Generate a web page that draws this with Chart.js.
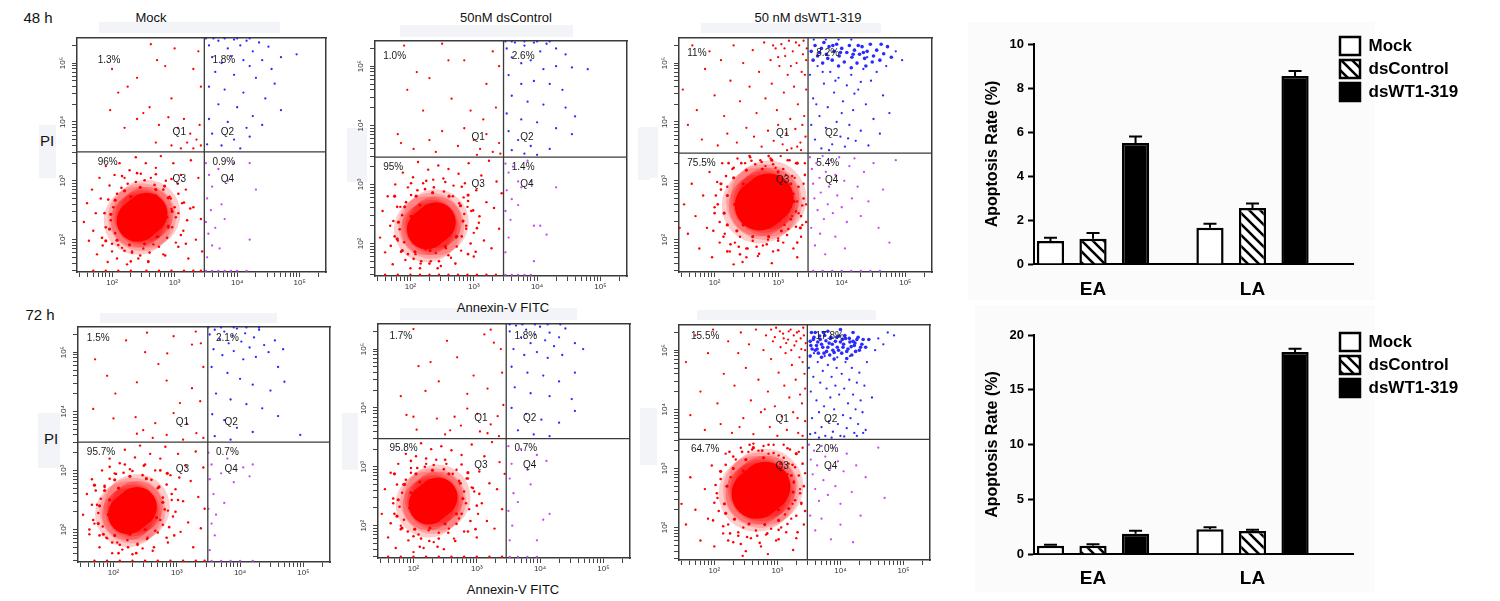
<!DOCTYPE html>
<html>
<head>
<meta charset="utf-8">
<title>Apoptosis - Annexin-V / PI</title>
<script src="https://cdn.jsdelivr.net/npm/chart.js@4.4.1/dist/chart.umd.min.js"></script>
<style>
  body { margin:0; width:1500px; height:601px; position:relative; overflow:hidden; background:#fff;
         font-family: Arial, "Liberation Sans", sans-serif; color:#111; }
  canvas { position:absolute; }
  .t { position:absolute; white-space:nowrap; transform:translate(-50%,-50%); }
  .shade { position:absolute; background:#f2f4f7; }
  .pane { position:absolute; background:#fbfbfb; }
</style>
</head>
<body>
<!-- faint boxes left over around the cytometry panels -->
<div class="shade" style="left:99px;top:22px;width:181px;height:11px"></div>
<div class="shade" style="left:39px;top:125px;width:17px;height:53px"></div>
<div class="shade" style="left:400px;top:25px;width:173px;height:12px"></div>
<div class="shade" style="left:347px;top:128px;width:20px;height:54px"></div>
<div class="shade" style="left:638px;top:128px;width:12px;height:52px"></div>
<div class="shade" style="left:701px;top:23px;width:180px;height:10px"></div>
<div class="shade" style="left:640px;top:127px;width:18px;height:51px"></div>
<div class="shade" style="left:100px;top:313px;width:177px;height:10px"></div>
<div class="shade" style="left:38px;top:413px;width:22px;height:55px"></div>
<div class="shade" style="left:400px;top:308px;width:177px;height:12px"></div>
<div class="shade" style="left:342px;top:413px;width:16px;height:57px"></div>
<div class="shade" style="left:642px;top:408px;width:8px;height:57px"></div>
<div class="shade" style="left:697px;top:310px;width:179px;height:10px"></div>
<div class="shade" style="left:640px;top:408px;width:17px;height:57px"></div>
<div class="pane" style="left:968px;top:22px;width:407px;height:278px"></div>
<div class="pane" style="left:975px;top:305px;width:400px;height:287px"></div>

<div class="t" style="left:38px;top:17px;font-size:15px">48 h</div>
<div class="t" style="left:40px;top:314px;font-size:15px">72 h</div>
<div class="t" style="left:151px;top:17px;font-size:13px">Mock</div>
<div class="t" style="left:506px;top:17px;font-size:13px">50nM dsControl</div>
<div class="t" style="left:808px;top:17px;font-size:13px">50 nM dsWT1-319</div>
<div class="t" style="left:47px;top:140px;font-size:15px">PI</div>
<div class="t" style="left:51px;top:438px;font-size:15px">PI</div>
<div class="t" style="left:503px;top:307px;font-size:13px">Annexin-V FITC</div>
<div class="t" style="left:513px;top:589px;font-size:13px">Annexin-V FITC</div>

<script>
// ---- flow cytometry panels: values are log10 of the Annexin-V (x) / PI (y) intensity ----
const XMIN = 1.44, XMAX = 5.42, YMIN = 1.45, YMAX = 5.43;
const decades = [2, 3, 4, 5];
const decadeLabels = ['10²', '10³', '10⁴', '10⁵'];
const gateX = [3.475, 3.47, 3.47, 3.49, 3.465, 3.475];
const gateY = [3.49, 3.46, 3.47, 3.48, 3.48, 3.49];

const pctM48 = ['1.3%', '1.8%', '96%', '0.9%'];
const pctC48 = ['1.0%', '2.6%', '95%', '1.4%'];
const pctW48 = ['11%', '8.2%', '75.5%', '5.4%'];
const pctM72 = ['1.5%', '2.1%', '95.7%', '0.7%'];
const pctC72 = ['1.7%', '1.8%', '95.8%', '0.7%'];
const pctW72 = ['15.5%', '17.8%', '64.7%', '2.0%'];

// 48 h Mock
const m48Core = [2.41,2.32, 2.48,2.38, 2.55,2.44];
const m48Ring = [1.96,2.18, 1.98,2.43, 2.05,2.67, 2.20,2.83, 2.45,2.89, 2.70,2.85, 2.90,2.71, 2.96,2.48, 2.90,2.23, 2.72,2.05, 2.52,1.93, 2.28,1.91, 2.08,1.99, 2.84,2.91, 1.90,1.98, 2.15,2.23, 2.80,2.33, 2.30,2.73, 2.70,2.68, 2.15,2.48];
const m48Near = [1.98,2.33, 2.02,2.55, 2.05,2.11, 2.08,2.78, 2.10,1.91, 2.15,2.88, 2.20,1.81, 2.25,2.95, 2.32,1.78, 2.38,2.98, 2.45,1.73, 2.52,3.01, 2.60,1.78, 2.68,2.93, 2.75,1.88, 2.82,2.85, 2.88,2.03, 2.92,2.73, 2.96,2.21, 3.00,2.55, 3.02,2.38, 3.06,2.78, 3.10,2.08, 3.15,2.63, 1.90,2.21, 1.94,2.68, 1.88,2.45, 2.16,3.08, 2.40,3.13, 2.70,3.11, 2.95,3.03, 3.20,2.33, 3.18,1.93, 2.30,1.63, 2.58,1.63, 2.85,1.73, 2.00,1.93, 1.84,2.03, 3.06,1.88, 3.25,2.53];
const m48Q3 = [1.55,2.30, 1.60,2.62, 1.63,1.98, 1.68,2.85, 1.70,2.15, 1.74,2.45, 1.76,1.75, 1.80,3.05, 1.82,2.70, 1.85,1.90, 1.90,3.25, 1.93,1.62, 1.96,2.92, 2.00,1.80, 2.04,3.10, 2.08,1.68, 2.12,3.30, 2.16,1.86, 2.20,3.05, 2.24,1.58, 2.28,3.18, 2.32,1.80, 2.38,3.40, 2.42,1.68, 2.46,3.12, 2.50,1.85, 2.54,3.30, 2.58,1.62, 2.62,3.05, 2.66,1.92, 2.70,3.22, 2.74,2.05, 2.78,3.42, 2.82,1.75, 2.86,3.00, 2.90,2.20, 2.94,2.70, 2.98,3.30, 3.02,1.95, 3.06,2.45, 3.10,3.10, 3.14,2.15, 3.18,2.85, 3.22,1.68, 3.26,3.35, 3.30,2.55, 3.34,2.00, 3.38,3.05, 3.42,2.35, 3.44,1.80, 2.95,2.52, 3.05,2.95, 2.88,2.38, 3.12,2.62, 2.70,2.75, 1.70,1.47, 1.90,1.47, 2.10,1.47, 2.30,1.47, 2.55,1.47, 2.75,1.47, 2.95,1.47, 3.15,1.47, 3.30,1.47, 3.42,1.47];
const m48Q1 = [2.00,4.90, 2.62,5.32, 2.72,5.05, 2.25,4.60, 2.40,4.75, 2.10,4.50, 2.95,4.40, 2.60,4.25, 1.97,4.20, 2.40,4.05, 2.75,3.95, 2.90,4.08, 3.05,3.90, 3.15,4.05, 3.25,3.80, 3.35,3.70, 2.70,3.65, 2.95,3.60, 3.10,3.55, 3.20,3.65, 3.30,3.55, 3.40,3.95, 3.42,4.60, 3.38,5.20, 3.30,4.90, 2.50,4.15, 2.20,3.90, 3.00,5.25, 2.85,4.95, 3.42,3.60];
const m48Q2 = [3.55,5.30, 3.70,5.38, 3.85,5.25, 3.95,5.40, 4.05,5.30, 4.15,5.38, 4.25,5.20, 4.35,5.35, 4.50,5.28, 4.70,5.10, 4.95,5.15, 3.60,5.10, 3.75,5.00, 3.90,5.12, 4.10,5.05, 4.20,4.95, 4.40,5.05, 4.55,4.90, 3.65,4.85, 3.95,4.80, 4.30,4.75, 4.60,4.65, 3.55,4.60, 3.80,4.55, 4.10,4.50, 4.45,4.40, 3.70,4.30, 4.00,4.25, 4.25,4.10, 4.70,4.20, 3.55,4.05, 3.85,4.00, 4.15,3.90, 4.40,3.95, 3.60,3.80, 3.95,3.70, 4.20,3.75, 3.75,3.60, 3.52,3.62, 4.05,3.55, 3.50,5.42, 3.62,5.42, 3.80,5.42, 4.00,5.42, 4.20,5.42];
const m48Q4 = [3.50,3.30, 3.55,3.10, 3.60,2.90, 3.52,2.70, 3.58,2.50, 3.50,2.30, 3.54,2.10, 3.60,1.90, 3.52,1.70, 3.65,2.20, 3.70,3.20, 3.75,2.60, 3.85,3.00, 3.95,3.30, 4.20,3.30, 4.30,2.85, 4.20,2.00, 3.72,1.85, 3.80,2.35, 3.50,1.47, 3.60,1.47, 3.70,1.47, 3.80,1.47, 3.90,1.47, 4.00,1.47, 4.15,1.47];

// 48 h dsControl
const c48Core = [2.26,2.24, 2.33,2.30, 2.40,2.36];
const c48Ring = [1.79,2.08, 1.81,2.36, 1.91,2.62, 2.09,2.80, 2.35,2.86, 2.61,2.80, 2.79,2.64, 2.83,2.38, 2.73,2.12, 2.55,1.95, 2.31,1.88, 2.07,1.86, 1.87,1.88, 2.91,2.82, 1.75,2.80, 1.99,2.20, 2.65,2.25, 2.15,2.65, 2.58,2.60, 2.01,2.46];
const c48Near = [1.83,2.24, 1.87,2.48, 1.90,2.02, 1.93,2.70, 1.96,1.82, 2.01,2.82, 2.05,1.74, 2.11,2.90, 2.17,1.70, 2.23,2.92, 2.30,1.66, 2.37,2.95, 2.45,1.70, 2.53,2.88, 2.60,1.80, 2.67,2.80, 2.73,1.95, 2.77,2.68, 2.81,2.12, 2.85,2.50, 2.88,2.30, 2.91,2.72, 2.95,2.00, 2.99,2.56, 1.75,2.12, 1.79,2.62, 1.73,2.38, 2.01,3.02, 2.25,3.06, 2.55,3.04, 2.81,2.96, 3.05,2.26, 3.03,1.86, 2.15,1.58, 2.43,1.58, 2.71,1.66, 1.85,1.86, 1.69,1.96, 2.91,1.82, 3.09,2.46];
const c48Q3 = [1.52,2.10, 1.56,2.55, 1.60,1.85, 1.64,2.80, 1.68,2.30, 1.72,1.65, 1.76,3.00, 1.80,2.05, 1.84,2.62, 1.88,3.20, 1.92,1.72, 1.96,2.95, 2.00,1.58, 2.04,3.12, 2.08,1.82, 2.12,3.38, 2.16,1.66, 2.20,3.02, 2.24,1.90, 2.28,3.25, 2.32,1.70, 2.36,3.08, 2.40,1.84, 2.44,3.32, 2.48,1.62, 2.52,3.10, 2.56,1.92, 2.60,3.26, 2.64,1.76, 2.68,2.98, 2.72,2.10, 2.76,3.18, 2.80,1.88, 2.84,2.78, 2.88,2.25, 2.92,3.36, 2.96,2.55, 3.00,1.78, 3.04,2.90, 3.08,2.35, 3.12,3.15, 3.16,2.05, 3.20,2.70, 3.24,3.40, 3.28,1.92, 3.32,2.60, 3.36,3.05, 3.40,2.25, 3.44,2.85, 2.90,2.62, 3.00,2.18, 2.86,3.02, 1.60,1.47, 1.80,1.47, 2.00,1.47, 2.15,1.47, 2.30,1.47, 2.45,1.47, 2.60,1.47, 2.75,1.47, 2.90,1.47, 3.05,1.47, 3.20,1.47, 3.35,1.47];
const c48Q1 = [1.90,5.35, 2.50,5.38, 2.60,5.10, 2.30,4.80, 1.95,4.60, 2.10,4.90, 2.85,5.10, 3.30,5.25, 3.40,5.00, 3.20,4.70, 2.20,4.25, 1.80,3.85, 1.85,3.70, 2.30,3.75, 2.50,3.90, 2.75,3.65, 2.85,3.95, 3.00,3.75, 3.10,3.60, 3.20,3.85, 3.30,3.55, 3.40,3.70, 3.15,4.10, 2.95,4.25, 3.35,4.30, 2.65,4.45, 3.42,3.52, 2.40,3.55, 2.05,3.60, 3.05,3.50];
const c48Q2 = [3.52,5.30, 3.65,5.40, 3.80,5.35, 3.95,5.40, 4.05,5.25, 4.15,5.38, 4.30,5.30, 4.45,5.20, 3.60,5.15, 3.75,5.05, 3.90,5.10, 4.10,4.95, 4.30,5.00, 4.55,4.98, 4.80,4.95, 3.55,4.85, 3.75,4.70, 3.95,4.75, 4.20,4.70, 4.40,4.60, 3.60,4.50, 3.85,4.40, 4.10,4.35, 4.45,4.30, 4.60,4.15, 3.52,4.20, 3.75,4.10, 4.00,4.05, 4.30,3.95, 4.55,3.85, 3.55,3.90, 3.70,3.75, 3.90,3.65, 4.20,3.60, 3.60,3.58, 3.80,3.52, 4.00,3.50, 3.60,5.42, 3.80,5.42, 4.00,5.42, 4.20,5.42, 3.50,5.42];
const c48Q4 = [3.50,3.35, 3.55,3.20, 3.62,3.30, 3.70,3.05, 3.52,2.90, 3.60,2.75, 3.75,2.95, 3.85,3.40, 3.50,2.55, 3.58,2.40, 3.70,2.65, 3.90,3.05, 4.30,2.95, 3.95,2.30, 4.05,2.30, 3.55,2.10, 4.15,2.15, 3.95,1.70, 3.50,1.85, 3.50,1.47, 3.60,1.47, 3.70,1.47, 3.80,1.47, 3.90,1.47];

// 48 h dsWT1-319
const w48Core = [2.71,2.58, 2.78,2.64, 2.85,2.70];
const w48Ring = [2.15,2.45, 2.20,2.75, 2.30,3.05, 2.50,3.18, 2.75,3.20, 3.00,3.15, 3.20,2.95, 3.25,2.65, 3.20,2.35, 3.05,2.15, 2.85,2.05, 2.60,2.05, 2.35,2.15, 2.20,2.25, 3.30,3.30, 2.90,3.35, 3.35,2.20, 2.10,2.95, 2.32,2.60, 3.10,2.75, 2.45,2.95, 3.02,2.32, 2.70,3.05, 2.45,2.25];
const w48Near = [2.05,2.60, 2.08,2.30, 2.10,2.85, 2.14,2.05, 2.18,3.08, 2.25,1.92, 2.30,3.22, 2.38,1.88, 2.42,3.30, 2.50,1.85, 2.58,3.34, 2.66,1.88, 2.74,3.32, 2.82,1.92, 2.92,3.28, 3.00,1.98, 3.08,3.20, 3.14,2.08, 3.22,3.08, 3.28,2.22, 3.32,2.90, 3.36,2.40, 3.40,2.70, 3.42,3.10, 3.38,2.58, 3.28,2.48, 3.24,2.78, 2.00,2.45, 2.02,2.75, 1.98,2.15, 2.22,3.30, 2.55,3.42, 2.85,3.42, 3.15,3.35, 3.44,2.30, 2.40,1.75, 2.70,1.76, 3.00,1.82, 2.20,1.80, 3.30,1.95];
const w48Q3 = [1.52,2.60, 1.58,2.10, 1.64,2.95, 1.70,2.40, 1.76,1.85, 1.82,2.75, 1.88,2.20, 1.92,3.15, 1.96,1.70, 2.00,2.55, 2.04,2.98, 2.08,1.95, 2.12,3.30, 2.16,2.10, 2.20,2.90, 2.24,1.80, 2.28,3.20, 2.32,1.95, 2.36,3.38, 2.40,2.05, 2.44,1.62, 2.48,3.30, 2.52,1.85, 2.56,3.40, 2.60,1.98, 2.64,3.28, 2.68,1.72, 2.72,3.35, 2.76,1.90, 2.80,3.25, 2.84,2.00, 2.88,3.38, 2.92,1.80, 2.96,3.22, 3.00,2.02, 3.04,3.42, 3.08,1.95, 3.12,3.10, 3.16,2.18, 3.20,2.80, 3.24,1.85, 3.28,3.30, 3.32,2.45, 3.36,2.05, 3.40,2.95, 3.44,2.60, 3.42,3.30, 3.38,2.25, 3.30,2.65, 3.26,3.05, 3.22,2.40, 3.14,2.95, 3.10,2.25, 3.18,3.35, 2.50,1.70, 2.30,1.58, 2.90,1.60, 3.30,1.70, 1.45,2.20];
const w48Q1 = [1.50,4.55, 1.58,3.95, 1.65,5.30, 1.72,4.20, 1.80,3.70, 1.85,4.90, 1.92,5.20, 2.00,4.45, 2.05,3.60, 2.10,5.05, 2.15,4.10, 2.20,3.80, 2.25,4.70, 2.30,5.30, 2.35,3.65, 2.40,4.35, 2.45,5.00, 2.50,3.90, 2.55,4.60, 2.60,5.22, 2.62,3.75, 2.66,4.15, 2.70,4.85, 2.74,3.58, 2.78,5.35, 2.80,4.40, 2.84,3.85, 2.88,5.05, 2.90,4.65, 2.93,3.68, 2.96,5.25, 2.98,4.20, 3.00,3.95, 3.02,4.95, 3.05,5.32, 3.07,3.62, 3.09,4.50, 3.11,5.12, 3.13,3.80, 3.15,4.80, 3.17,5.38, 3.19,4.05, 3.21,3.55, 3.23,5.20, 3.25,4.60, 3.27,3.88, 3.29,5.00, 3.31,4.30, 3.33,5.30, 3.35,3.65, 3.37,4.85, 3.39,5.15, 3.41,4.10, 3.43,3.75, 3.44,4.55, 3.45,5.25, 3.40,5.38, 3.36,3.52, 3.28,5.35, 3.20,4.95, 3.10,5.25, 3.00,5.10, 2.92,5.30, 3.44,5.05, 3.42,4.80, 3.38,3.95, 3.30,3.58, 3.14,3.52];
const w48Q2Dense = [3.52,5.20, 3.58,5.30, 3.62,5.12, 3.68,5.25, 3.72,5.35, 3.76,5.15, 3.80,5.28, 3.85,5.05, 3.88,5.20, 3.92,5.32, 3.96,5.12, 4.00,5.25, 4.04,5.02, 4.08,5.18, 4.12,5.30, 4.16,5.10, 4.20,5.22, 4.24,5.00, 4.28,5.15, 4.32,5.28, 4.36,5.08, 4.40,5.20, 4.45,5.32, 4.50,5.12, 4.55,5.22, 4.60,5.05, 4.66,5.16, 4.72,5.28, 4.78,5.10, 3.55,5.05, 3.70,5.00, 3.95,4.95, 4.15,4.92, 4.38,4.95, 4.62,5.32, 3.65,5.18, 3.78,5.08, 3.98,5.18, 4.18,5.15, 4.34,5.18, 4.48,5.02, 4.26,5.30, 3.86,5.30];
const w48Q2 = [3.50,4.80, 3.55,4.40, 3.58,3.70, 3.62,4.95, 3.65,4.10, 3.68,3.55, 3.72,4.65, 3.75,3.90, 3.78,4.25, 3.82,4.85, 3.85,3.62, 3.88,4.50, 3.92,4.00, 3.95,4.75, 3.98,3.75, 4.02,4.35, 4.05,3.58, 4.08,4.62, 4.12,3.95, 4.15,4.80, 4.18,4.20, 4.22,3.68, 4.26,4.55, 4.30,3.85, 4.34,4.90, 4.38,4.30, 4.42,3.60, 4.46,4.70, 4.50,4.05, 4.55,4.85, 4.60,3.80, 4.65,4.45, 4.70,4.95, 4.75,4.15, 4.85,5.20, 4.95,5.05, 3.52,3.95, 3.60,4.30, 3.70,4.85, 3.80,3.52, 3.90,4.70, 4.00,4.15, 4.10,3.72, 4.20,4.48, 4.30,4.68, 4.40,5.10, 3.56,5.40, 3.75,5.40, 3.95,5.40, 4.15,5.40];
const w48Q4 = [3.50,3.40, 3.53,3.20, 3.55,2.95, 3.57,2.70, 3.60,3.30, 3.62,2.50, 3.65,3.05, 3.67,2.80, 3.70,3.42, 3.72,2.35, 3.75,3.15, 3.78,2.60, 3.80,2.90, 3.83,3.35, 3.86,2.45, 3.90,3.10, 3.93,2.75, 3.96,3.40, 4.00,2.55, 4.04,3.00, 4.08,2.30, 4.12,3.25, 4.16,2.70, 4.20,3.38, 4.25,2.90, 4.30,2.40, 4.35,3.15, 4.42,2.65, 4.50,3.30, 4.58,2.20, 4.65,2.85, 4.75,1.95, 4.85,3.35, 3.52,2.20, 3.58,1.90, 3.66,2.10, 3.74,1.75, 3.90,2.05, 4.05,1.85, 3.55,1.47, 3.70,1.47, 3.85,1.47, 4.00,1.47, 4.15,1.47, 4.30,1.47, 4.45,1.47, 4.60,1.47];

// 72 h Mock
const m72Core = [2.23,2.26, 2.30,2.32, 2.37,2.38];
const m72Ring = [1.76,2.10, 1.78,2.40, 1.86,2.66, 2.02,2.84, 2.26,2.90, 2.52,2.86, 2.72,2.72, 2.78,2.46, 2.68,2.20, 2.50,2.00, 2.26,1.92, 2.02,1.90, 1.84,1.92, 2.85,2.95, 1.70,2.75, 1.92,2.25, 2.58,2.30, 2.08,2.70, 2.50,2.66, 1.94,2.50];
const m72Near = [1.76,2.28, 1.80,2.52, 1.83,2.05, 1.86,2.74, 1.89,1.86, 1.94,2.86, 1.98,1.78, 2.04,2.94, 2.10,1.74, 2.16,2.96, 2.23,1.70, 2.30,2.99, 2.38,1.74, 2.46,2.92, 2.53,1.84, 2.60,2.84, 2.66,1.98, 2.70,2.70, 2.74,2.16, 2.78,2.54, 2.81,2.34, 2.84,2.76, 2.88,2.04, 2.92,2.60, 1.68,2.16, 1.72,2.66, 1.66,2.42, 1.94,3.06, 2.18,3.10, 2.48,3.08, 2.74,3.00, 2.98,2.30, 2.96,1.90, 2.08,1.60, 2.36,1.60, 2.64,1.70, 1.78,1.90, 1.62,2.00, 2.84,1.86, 3.02,2.50];
const m72Q3 = [1.52,2.25, 1.58,2.60, 1.62,1.92, 1.66,2.85, 1.70,2.10, 1.74,2.42, 1.78,1.70, 1.82,3.00, 1.86,2.72, 1.90,1.85, 1.94,3.20, 1.98,1.60, 2.02,2.95, 2.06,1.78, 2.10,3.12, 2.14,1.66, 2.18,3.35, 2.22,1.82, 2.26,3.02, 2.30,1.58, 2.34,3.22, 2.38,1.76, 2.42,3.42, 2.46,1.68, 2.50,3.10, 2.54,1.86, 2.58,3.28, 2.62,1.64, 2.66,3.00, 2.70,1.95, 2.74,3.20, 2.78,2.08, 2.82,3.40, 2.86,1.78, 2.90,2.92, 2.94,2.22, 2.98,2.68, 3.02,3.28, 3.06,1.96, 3.10,2.48, 3.14,3.08, 3.18,2.12, 3.22,2.82, 3.26,1.70, 3.30,3.32, 3.34,2.55, 3.38,2.02, 3.42,3.05, 3.44,2.35, 2.92,2.50, 3.04,2.88, 2.86,2.32, 1.70,1.47, 1.90,1.47, 2.10,1.47, 2.30,1.47, 2.50,1.47, 2.70,1.47, 2.90,1.47, 3.10,1.47, 3.30,1.47, 3.44,1.47];
const m72Q1 = [1.71,4.88, 2.53,5.33, 2.95,5.27, 3.24,5.13, 3.38,5.15, 3.30,5.35, 2.50,5.00, 2.85,4.98, 2.03,4.30, 2.37,4.49, 2.71,4.80, 2.84,4.52, 1.68,4.04, 2.00,3.88, 2.35,3.90, 2.66,3.80, 2.95,3.97, 3.05,4.14, 3.24,4.39, 3.37,4.17, 3.16,3.79, 2.47,3.68, 2.37,3.62, 2.84,3.60, 3.31,3.63, 3.42,3.55, 3.10,3.52, 2.62,3.55, 1.90,4.60, 3.42,4.75, 2.20,5.20];
const m72Q2 = [3.52,5.30, 3.60,5.38, 3.68,5.22, 3.75,5.35, 3.82,5.15, 3.88,5.28, 3.95,5.40, 4.02,5.18, 4.08,5.32, 4.15,5.08, 4.22,5.25, 4.30,5.38, 4.38,5.12, 4.45,5.00, 4.55,5.20, 4.68,5.05, 3.58,5.05, 3.72,4.95, 3.90,5.02, 4.05,4.88, 4.25,4.92, 4.60,4.75, 3.55,4.75, 3.80,4.65, 4.00,4.55, 4.20,4.45, 4.48,4.35, 4.70,4.50, 3.62,4.30, 3.85,4.20, 4.10,4.12, 4.35,4.05, 4.60,3.92, 3.56,3.95, 3.75,3.85, 3.95,3.72, 4.20,3.65, 3.60,3.58, 3.85,3.52, 4.95,3.60, 3.50,5.42, 3.70,5.42, 3.90,5.42, 4.10,5.42, 4.30,5.42];
const m72Q4 = [3.50,3.30, 3.55,3.10, 3.52,2.85, 3.58,2.60, 3.50,2.35, 3.55,2.10, 3.60,1.90, 3.52,1.65, 3.70,2.95, 3.80,3.20, 3.90,2.80, 4.05,3.05, 4.15,2.90, 4.20,3.10, 3.75,2.45, 3.62,2.25, 3.55,1.47, 3.70,1.47, 3.85,1.47, 4.00,1.47, 4.20,1.47];

// 72 h dsControl
const c72Core = [2.24,2.36, 2.31,2.42, 2.38,2.48];
const c72Ring = [1.74,2.16, 1.76,2.44, 1.86,2.70, 2.04,2.88, 2.30,2.94, 2.56,2.88, 2.74,2.72, 2.78,2.46, 2.68,2.20, 2.50,2.03, 2.26,1.96, 2.02,1.94, 1.82,1.96, 2.86,2.90, 1.70,2.88, 1.94,2.30, 2.60,2.34, 2.10,2.74, 2.52,2.70, 1.96,2.56];
const c72Near = [1.78,2.32, 1.82,2.56, 1.85,2.10, 1.88,2.78, 1.91,1.90, 1.96,2.90, 2.00,1.82, 2.06,2.98, 2.12,1.78, 2.18,3.00, 2.25,1.74, 2.32,3.03, 2.40,1.78, 2.48,2.96, 2.55,1.88, 2.62,2.88, 2.68,2.03, 2.72,2.76, 2.76,2.20, 2.80,2.58, 2.83,2.38, 2.86,2.80, 2.90,2.08, 2.94,2.64, 1.70,2.20, 1.74,2.70, 1.68,2.46, 1.96,3.10, 2.20,3.14, 2.50,3.12, 2.76,3.04, 3.00,2.34, 2.98,1.94, 2.10,1.64, 2.38,1.64, 2.66,1.74, 1.80,1.94, 1.64,2.04, 2.86,1.90, 3.04,2.54];
const c72Q3 = [1.50,2.20, 1.55,2.62, 1.60,1.80, 1.64,2.90, 1.68,2.38, 1.72,1.62, 1.76,3.05, 1.80,2.00, 1.84,2.70, 1.88,3.22, 1.92,1.75, 1.96,2.98, 2.00,1.55, 2.04,3.18, 2.08,1.85, 2.12,3.40, 2.16,1.62, 2.20,3.05, 2.24,1.92, 2.28,3.30, 2.32,1.72, 2.36,3.12, 2.40,1.88, 2.44,3.35, 2.48,1.60, 2.52,3.05, 2.56,1.95, 2.60,3.28, 2.64,1.78, 2.68,2.95, 2.72,2.12, 2.76,3.20, 2.80,1.90, 2.84,2.80, 2.88,2.28, 2.92,3.38, 2.96,2.58, 3.00,1.80, 3.04,2.92, 3.08,2.38, 3.12,3.18, 3.16,2.08, 3.20,2.72, 3.24,3.42, 3.28,1.95, 3.32,2.62, 3.36,3.08, 3.40,2.28, 3.44,2.88, 2.92,2.65, 3.02,2.20, 1.60,1.47, 1.80,1.47, 2.00,1.47, 2.20,1.47, 2.40,1.47, 2.60,1.47, 2.80,1.47, 3.00,1.47, 3.20,1.47, 3.40,1.47];
const c72Q1 = [2.00,5.34, 2.53,5.14, 2.27,4.78, 2.08,4.71, 2.69,4.86, 3.12,5.25, 3.27,5.11, 3.22,5.33, 2.19,4.29, 2.85,4.24, 3.17,4.33, 1.89,3.88, 2.00,3.85, 2.37,3.82, 2.85,3.99, 3.01,3.90, 3.22,3.72, 3.33,3.86, 2.58,3.62, 2.05,3.63, 2.50,3.55, 3.17,3.57, 3.35,3.52, 2.75,3.70, 3.05,3.60, 3.42,4.05, 3.40,4.60, 2.40,4.45, 1.80,4.20, 3.38,5.00, 2.95,4.55, 2.65,3.85];
const c72Q2 = [3.52,5.30, 3.62,5.40, 3.70,5.20, 3.78,5.33, 3.85,5.10, 3.92,5.25, 4.00,5.38, 4.08,5.15, 4.15,5.28, 4.22,5.05, 4.30,5.20, 4.40,5.35, 4.55,5.10, 4.68,5.00, 3.58,5.00, 3.75,4.90, 3.95,4.95, 4.12,4.85, 4.35,4.90, 3.55,4.70, 3.80,4.60, 4.05,4.55, 4.30,4.45, 4.55,4.60, 3.60,4.35, 3.85,4.25, 4.15,4.20, 4.50,4.15, 3.55,4.00, 3.78,3.90, 4.02,3.80, 4.30,3.75, 4.55,3.95, 3.65,3.62, 3.90,3.55, 4.15,3.52, 3.52,5.42, 3.72,5.42, 3.92,5.42, 4.12,5.42, 4.32,5.42];
const c72Q4 = [3.50,3.35, 3.55,3.05, 3.52,2.80, 3.58,2.55, 3.50,2.25, 3.56,2.00, 3.52,1.75, 3.70,3.30, 3.80,2.95, 3.95,3.20, 4.10,3.10, 3.85,2.70, 3.65,2.40, 4.05,2.10, 4.15,2.20, 3.95,1.75, 3.52,1.47, 3.65,1.47, 3.80,1.47, 3.95,1.47];

// 72 h dsWT1-319
const w72Core = [2.67,2.57, 2.74,2.63, 2.81,2.69];
const w72Ring = [2.16,2.40, 2.20,2.70, 2.30,3.00, 2.50,3.15, 2.78,3.18, 3.05,3.08, 3.22,2.88, 3.25,2.60, 3.18,2.32, 3.02,2.12, 2.80,2.05, 2.55,2.06, 2.32,2.14, 2.18,2.24, 3.30,3.25, 2.62,3.35, 2.10,2.95, 2.34,2.62, 3.10,2.72, 2.46,2.96, 3.02,2.30, 2.72,3.06, 2.46,2.26];
const w72Near = [2.04,2.58, 2.07,2.28, 2.10,2.82, 2.14,2.02, 2.18,3.06, 2.25,1.90, 2.30,3.20, 2.38,1.86, 2.44,3.28, 2.52,1.84, 2.60,3.32, 2.68,1.86, 2.76,3.30, 2.84,1.90, 2.94,3.26, 3.02,1.96, 3.10,3.18, 3.16,2.06, 3.24,3.06, 3.30,2.20, 3.34,2.88, 3.38,2.40, 3.42,2.70, 3.40,3.08, 3.36,2.58, 3.28,2.46, 3.26,2.76, 2.00,2.42, 2.02,2.72, 1.98,2.12, 2.24,3.28, 2.56,3.40, 2.86,3.40, 3.16,3.34, 3.44,2.28, 2.42,1.72, 2.72,1.74, 3.02,1.80, 2.22,1.78, 3.32,1.92];
const w72Q3 = [1.48,2.40, 1.55,2.05, 1.62,2.85, 1.70,2.30, 1.78,1.78, 1.85,2.65, 1.90,2.15, 1.96,3.05, 2.00,1.68, 2.05,2.50, 2.10,2.95, 2.14,1.90, 2.18,3.25, 2.22,2.05, 2.26,2.85, 2.30,1.75, 2.34,3.15, 2.38,1.92, 2.42,3.35, 2.46,2.00, 2.50,1.60, 2.54,3.28, 2.58,1.82, 2.62,3.42, 2.66,1.95, 2.70,3.30, 2.74,1.68, 2.78,3.38, 2.82,1.88, 2.86,3.25, 2.90,1.98, 2.94,3.40, 2.98,1.78, 3.02,3.22, 3.06,2.00, 3.10,3.40, 3.14,1.92, 3.18,3.08, 3.22,2.15, 3.26,2.78, 3.30,1.82, 3.34,3.28, 3.38,2.42, 3.42,2.05, 3.44,2.92, 3.40,3.35, 3.36,2.65, 3.28,3.02, 3.24,2.40, 3.16,2.90, 3.12,2.22, 3.20,3.32, 2.45,1.52, 2.85,1.55, 3.25,1.62];
const w72Q1 = [1.55,4.80, 1.62,3.90, 1.70,5.25, 1.78,4.30, 1.85,3.65, 1.90,4.95, 1.98,5.35, 2.05,4.10, 2.10,3.75, 2.15,4.60, 2.22,5.15, 2.28,3.60, 2.32,4.40, 2.38,4.95, 2.42,5.30, 2.46,3.85, 2.50,4.70, 2.55,5.10, 2.58,4.15, 2.62,3.58, 2.66,5.35, 2.70,4.50, 2.74,3.95, 2.78,5.00, 2.82,5.25, 2.85,4.30, 2.88,3.70, 2.90,4.85, 2.93,5.15, 2.96,4.05, 2.98,5.38, 3.00,3.55, 3.02,4.62, 3.05,5.05, 3.07,3.88, 3.09,5.28, 3.11,4.40, 3.13,4.95, 3.15,3.65, 3.17,5.18, 3.19,4.20, 3.21,5.35, 3.23,4.75, 3.25,3.95, 3.27,5.08, 3.29,4.50, 3.31,5.30, 3.33,3.60, 3.35,4.88, 3.37,5.20, 3.39,4.10, 3.41,5.38, 3.43,4.60, 3.44,3.80, 3.45,5.12, 3.42,5.25, 3.38,5.02, 3.34,5.32, 3.30,5.15, 3.26,5.25, 3.22,5.00, 3.18,5.32, 3.14,5.12, 3.10,5.20, 3.04,5.32, 2.96,5.22, 2.90,5.35, 3.44,4.35, 3.40,3.55, 3.36,4.25, 3.32,3.85, 3.44,5.00, 3.40,4.80, 2.80,4.00, 2.40,3.70];
const w72Q2Dense = [3.52,5.15, 3.55,5.02, 3.58,5.22, 3.62,5.08, 3.65,4.95, 3.68,5.18, 3.72,5.05, 3.75,5.25, 3.78,4.98, 3.82,5.12, 3.85,5.22, 3.88,5.00, 3.92,5.15, 3.95,5.05, 3.98,5.24, 4.02,4.95, 4.05,5.10, 4.08,5.20, 4.12,5.02, 4.15,5.14, 4.18,4.92, 4.22,5.08, 4.26,5.18, 4.30,5.00, 4.34,5.10, 3.60,5.30, 3.80,5.32, 4.00,5.35, 4.20,5.30, 3.70,4.88, 3.90,4.85, 4.10,4.86, 4.40,5.05, 4.45,5.18, 3.52,4.90, 3.54,5.30, 3.53,5.08, 3.57,5.18, 3.60,5.00, 3.64,5.14, 3.67,5.24, 3.70,5.10, 3.74,4.95, 3.77,5.16, 3.80,5.05, 3.84,5.20, 3.87,5.10, 3.90,4.96, 3.94,5.22, 3.97,5.00, 4.00,5.14, 4.04,5.05, 4.07,5.25, 4.10,4.98, 4.14,5.20, 4.17,5.06, 4.20,5.15, 4.24,4.98, 4.28,5.22, 4.32,5.05, 4.36,5.18, 3.63,5.02, 3.83,4.92, 4.03,5.18, 4.23,5.12, 3.73,5.30];
const w72Q2 = [3.50,4.70, 3.53,4.30, 3.55,3.85, 3.57,4.55, 3.60,3.60, 3.62,4.15, 3.64,4.80, 3.66,3.95, 3.68,4.45, 3.70,3.70, 3.72,4.65, 3.74,4.05, 3.76,3.55, 3.78,4.35, 3.80,4.75, 3.82,3.80, 3.84,4.20, 3.86,4.55, 3.88,3.62, 3.90,4.00, 3.92,4.40, 3.94,4.70, 3.96,3.75, 3.98,4.25, 4.00,3.55, 4.02,4.60, 4.04,3.90, 4.06,4.35, 4.08,4.80, 4.10,3.68, 4.12,4.10, 4.14,4.50, 4.16,3.85, 4.18,4.70, 4.20,4.25, 4.22,3.60, 4.24,4.00, 4.26,4.45, 4.28,3.75, 4.30,4.62, 4.32,4.15, 4.35,3.95, 4.38,4.40, 4.40,3.65, 4.42,4.80, 4.50,4.20, 4.55,5.00, 4.60,5.20, 4.68,5.10, 4.75,5.30, 4.85,5.25, 3.58,4.95, 3.75,4.90, 3.95,4.88, 4.15,4.90, 3.52,3.58, 3.66,3.52, 3.86,3.52, 4.06,3.54, 4.26,3.55, 4.36,3.60];
const w72Q4 = [3.50,3.40, 3.53,3.15, 3.56,2.90, 3.58,3.30, 3.60,2.65, 3.63,3.05, 3.66,2.45, 3.70,3.38, 3.73,2.80, 3.76,3.20, 3.80,2.55, 3.84,3.00, 3.88,3.35, 3.92,2.70, 3.96,3.12, 4.00,2.40, 4.05,2.95, 4.10,3.25, 4.18,2.60, 4.25,3.05, 4.32,2.20, 4.40,2.85, 4.60,3.35, 4.70,2.50, 3.52,2.20, 3.60,1.95, 3.70,2.15, 3.85,1.80, 4.00,2.05, 4.20,1.75];

// ---- bar charts: apoptosis rate (%) ----
const groups = ['EA', 'LA'];
const series = ['Mock', 'dsControl', 'dsWT1-319'];
const mock48 = [1.05, 1.65], ctrl48 = [1.15, 2.55], wt48 = [5.5, 8.55];
const mock48Err = [0.14, 0.18], ctrl48Err = [0.26, 0.2], wt48Err = [0.3, 0.22];
const mock72 = [0.75, 2.25], ctrl72 = [0.75, 2.1], wt72 = [1.85, 18.45];
const mock72Err = [0.1, 0.2], ctrl72Err = [0.14, 0.12], wt72Err = [0.27, 0.3];
const yTicks48 = [0, 2, 4, 6, 8, 10];
const yTicks72 = [0, 5, 10, 15, 20];

Chart.defaults.font.family = 'Arial, "Liberation Sans", Helvetica, sans-serif';
Chart.defaults.animation = false;

function pts(a) {
  const out = [];
  for (let i = 0; i < a.length; i += 2) out.push({ x: a[i], y: a[i + 1] });
  return out;
}

function decadeTicks(lo, hi) {
  const t = [];
  for (let n = 1; n <= 5; n++) {
    for (let k = 1; k <= 9; k++) {
      const v = n + Math.log10(k);
      if (v > lo && v < hi) t.push({ value: v });
    }
  }
  return t;
}

function expLabel(v) {
  const i = decades.findIndex(d => Math.abs(d - v) < 1e-6);
  return i >= 0 ? decadeLabels[i] : '';
}

// percentages and quadrant names
const quadText = {
  id: 'quadText',
  afterDatasetsDraw(chart, args, o) {
    const { ctx } = chart;
    const x = chart.scales.x, y = chart.scales.y;
    ctx.save();
    ctx.font = '10px Arial, "Liberation Sans", sans-serif';
    ctx.fillStyle = '#1a1a1a';
    ctx.textBaseline = 'middle';
    ctx.textAlign = 'left';
    const put = (s, vx, vy) => ctx.fillText(s, x.getPixelForValue(vx), y.getPixelForValue(vy));
    put(o.pct[0], o.tx, o.ty);
    put(o.pct[1], o.gx + 0.13, o.ty);
    put(o.pct[2], o.tx, o.gy - 0.17);
    put(o.pct[3], o.gx + 0.13, o.gy - 0.17);
    ctx.textAlign = 'center';
    put('Q1', o.gx - 0.4, o.gy + 0.34);
    put('Q2', o.gx + 0.37, o.gy + 0.34);
    put('Q3', o.gx - 0.4, o.gy - 0.46);
    put('Q4', o.gx + 0.37, o.gy - 0.46);
    ctx.restore();
  }
};

const panels = [
  { box: [77, 36, 326, 272], g: 0, pct: pctM48, tx: 1.77, ty: 5.05, coreR: 21, core: m48Core, ring: m48Ring, near: m48Near, q3: m48Q3, q1: m48Q1, q2: m48Q2, q2d: [], q4: m48Q4 },
  { box: [375, 39, 627, 276], g: 1, pct: pctC48, tx: 1.57, ty: 5.17, coreR: 20, core: c48Core, ring: c48Ring, near: c48Near, q3: c48Q3, q1: c48Q1, q2: c48Q2, q2d: [], q4: c48Q4 },
  { box: [679, 36, 932, 272], g: 2, pct: pctW48, tx: 1.57, ty: 5.16, coreR: 25, core: w48Core, ring: w48Ring, near: w48Near, q3: w48Q3, q1: w48Q1, q2: w48Q2, q2d: w48Q2Dense, q4: w48Q4 },
  { box: [78, 325, 330, 562], g: 3, pct: pctM72, tx: 1.58, ty: 5.23, coreR: 20, core: m72Core, ring: m72Ring, near: m72Near, q3: m72Q3, q1: m72Q1, q2: m72Q2, q2d: [], q4: m72Q4 },
  { box: [378, 322, 630, 558], g: 4, pct: pctC72, tx: 1.62, ty: 5.22, coreR: 20, core: c72Core, ring: c72Ring, near: c72Near, q3: c72Q3, q1: c72Q1, q2: c72Q2, q2d: [], q4: c72Q4 },
  { box: [679, 323, 930, 560], g: 5, pct: pctW72, tx: 1.63, ty: 5.23, coreR: 25, core: w72Core, ring: w72Ring, near: w72Near, q3: w72Q3, q1: w72Q1, q2: w72Q2, q2d: w72Q2Dense, q4: w72Q4 }
];

const RED = '#ff0000', BLUE = '#2a2aff', MAG = '#c845ff', LINE = '#3a3a3a';

function addCanvas(left, top, w, h) {
  const c = document.createElement('canvas');
  c.width = w; c.height = h;
  c.style.left = left + 'px'; c.style.top = top + 'px';
  c.style.width = w + 'px'; c.style.height = h + 'px';
  document.body.appendChild(c);
  return c;
}

panels.forEach(p => {
  const [l, t, r, b] = p.box;
  const padL = 45, padT = 6, padR = 8, padB = 28;
  const cv = addCanvas(l - padL, t - padT, r - l + padL + padR, b - t + padT + padB);
  const gx = gateX[p.g], gy = gateY[p.g];
  const dot = (data, color, radius, order) => ({
    data: pts(data), backgroundColor: color, borderWidth: 0, pointRadius: radius, pointHoverRadius: radius, order
  });
  new Chart(cv, {
    type: 'scatter',
    data: {
      datasets: [
        dot(p.core, 'rgba(255,0,0,0.2)', p.coreR + 13, 8),
        dot(p.core, 'rgba(255,0,0,0.3)', p.coreR + 6, 7),
        dot(p.ring, RED, 1.6, 6),
        dot(p.near, RED, 1.3, 6),
        dot(p.core, RED, p.coreR, 5),
        dot(p.q3, RED, 1.2, 4),
        dot(p.q1, RED, 1.15, 3),
        dot(p.q2d, BLUE, 1.8, 3),
        dot(p.q2, BLUE, 1.15, 3),
        dot(p.q4, MAG, 1.15, 3),
        { type: 'line', data: [{ x: gx, y: YMIN }, { x: gx, y: YMAX }], borderColor: LINE, borderWidth: 1.3, pointRadius: 0, order: 0 },
        { type: 'line', data: [{ x: XMIN, y: gy }, { x: XMAX, y: gy }], borderColor: LINE, borderWidth: 1.3, pointRadius: 0, order: 0 }
      ]
    },
    options: {
      responsive: false,
      animation: false,
      layout: { autoPadding: false, padding: { left: 0, top: padT, right: padR, bottom: 0 } },
      plugins: {
        legend: { display: false },
        tooltip: { enabled: false },
        quadText: { pct: p.pct, gx, gy, tx: p.tx, ty: p.ty }
      },
      scales: {
        x: {
          type: 'linear', position: 'bottom', min: XMIN, max: XMAX,
          afterBuildTicks: s => { s.ticks = decadeTicks(XMIN, XMAX); },
          afterFit: s => { s.height = padB; },
          ticks: { autoSkip: false, maxRotation: 0, minRotation: 0, padding: 1, color: '#333', font: { size: 8 }, callback: expLabel },
          grid: { drawOnChartArea: false, drawTicks: true, tickLength: 5, tickColor: '#444', tickWidth: 1 },
          border: { color: LINE, width: 1.5 }
        },
        y: {
          type: 'linear', position: 'left', min: YMIN, max: YMAX,
          afterBuildTicks: s => { s.ticks = decadeTicks(YMIN, YMAX); },
          afterFit: s => { s.width = padL; },
          ticks: { autoSkip: false, minRotation: 90, maxRotation: 90, crossAlign: 'center', padding: 3, color: '#333', font: { size: 8 }, callback: expLabel },
          grid: { drawOnChartArea: false, drawTicks: true, tickLength: 5, tickColor: '#444', tickWidth: 1 },
          border: { color: LINE, width: 1.5 }
        },
        xTop: {
          type: 'linear', position: 'top', min: XMIN, max: XMAX, display: true,
          afterFit: s => { s.height = 0; },
          ticks: { display: false }, grid: { display: false, drawTicks: false },
          border: { display: true, color: LINE, width: 1.5 }
        },
        yRight: {
          type: 'linear', position: 'right', min: YMIN, max: YMAX, display: true,
          afterFit: s => { s.width = 0; },
          ticks: { display: false }, grid: { display: false, drawTicks: false },
          border: { display: true, color: LINE, width: 1.5 }
        }
      }
    },
    plugins: [quadText]
  });
});

// ---- bar charts ----
function hatch() {
  const s = 11;
  const c = document.createElement('canvas');
  c.width = s; c.height = s;
  const g = c.getContext('2d');
  g.fillStyle = '#fff';
  g.fillRect(0, 0, s, s);
  g.strokeStyle = '#000';
  g.lineWidth = 2.6;
  g.beginPath();
  g.moveTo(-s, 0); g.lineTo(s, 2 * s);
  g.moveTo(0, 0); g.lineTo(s, s);
  g.moveTo(0, -s); g.lineTo(2 * s, s);
  g.stroke();
  return g.createPattern(c, 'repeat');
}

const errorBars = {
  id: 'errorBars',
  afterDatasetsDraw(chart) {
    const { ctx } = chart;
    const ys = chart.scales.y;
    ctx.save();
    ctx.strokeStyle = '#000';
    ctx.lineWidth = 2;
    chart.data.datasets.forEach((ds, i) => {
      const meta = chart.getDatasetMeta(i);
      meta.data.forEach((bar, j) => {
        const v = ds.data[j].y, e = ds.errors[j];
        const top = ys.getPixelForValue(v + e);
        ctx.beginPath();
        ctx.moveTo(bar.x, bar.y);
        ctx.lineTo(bar.x, top);
        ctx.moveTo(bar.x - 6.5, top);
        ctx.lineTo(bar.x + 6.5, top);
        ctx.stroke();
      });
    });
    ctx.restore();
  }
};

// legend drawn by Chart.js, moved to its place over the right end of the axis
const legendAt = {
  id: 'legendAt',
  beforeDraw(chart, args, o) {
    const lg = chart.legend;
    if (!lg) return;
    const w = lg.width, h = lg.height;
    lg.left = o.x; lg.top = o.y; lg.right = o.x + w; lg.bottom = o.y + h;
  }
};

function barChart(top, height, vals, errs, yTicks, padTop, xAxisH, labelPad, legendY) {
  const cv = addCanvas(960, top, 540, height);
  const pattern = hatch();
  const fills = ['#ffffff', pattern, '#000000'];
  const yMax = yTicks[yTicks.length - 1];
  new Chart(cv, {
    type: 'bar',
    data: {
      datasets: series.map((name, k) => ({
        label: name,
        data: groups.map((gname, i) => ({ x: i, y: vals[k][i] })),
        errors: errs[k],
        backgroundColor: fills[k],
        borderColor: '#000',
        borderWidth: 2.5,
        borderSkipped: 'bottom',
        barPercentage: 0.64,
        categoryPercentage: 0.8
      }))
    },
    options: {
      responsive: false,
      animation: false,
      layout: { padding: { left: 0, top: padTop, right: 147, bottom: 0 } },
      plugins: {
        tooltip: { enabled: false },
        legend: {
          display: true, position: 'chartArea', align: 'start',
          labels: { boxWidth: 20, boxHeight: 18, padding: 5, color: '#000', font: { size: 17, weight: 'bold' } }
        },
        legendAt: { x: 375, y: legendY }
      },
      scales: {
        x: {
          type: 'linear', min: -0.37, max: 1.63, offset: false,
          afterBuildTicks: s => { s.ticks = groups.map((gname, i) => ({ value: i })); },
          afterFit: s => { s.height = xAxisH; },
          ticks: { autoSkip: false, maxRotation: 0, padding: labelPad, color: '#000', font: { size: 19, weight: 'bold' }, callback: v => groups[v] },
          grid: { display: false, drawTicks: false },
          border: { color: '#000', width: 2 }
        },
        y: {
          min: 0, max: yMax,
          afterBuildTicks: s => { s.ticks = yTicks.map(v => ({ value: v })); },
          afterFit: s => { s.width = 74; },
          ticks: { padding: 4, color: '#000', font: { size: 13, weight: 'bold' } },
          grid: { drawOnChartArea: false, drawTicks: true, tickLength: 6, tickColor: '#000', tickWidth: 2 },
          border: { color: '#000', width: 2 },
          title: { display: true, text: 'Apoptosis Rate (%)', color: '#000', font: { size: 16, weight: 'bold' }, padding: { top: 23, bottom: 0 } }
        }
      }
    },
    plugins: [errorBars, legendAt]
  });
}

barChart(20, 280, [mock48, ctrl48, wt48], [mock48Err, ctrl48Err, wt48Err], yTicks48, 24, 36, 14, 12);
barChart(310, 291, [mock72, ctrl72, wt72], [mock72Err, ctrl72Err, wt72Err], yTicks72, 25, 47, 13, 18);
</script>
</body>
</html>
